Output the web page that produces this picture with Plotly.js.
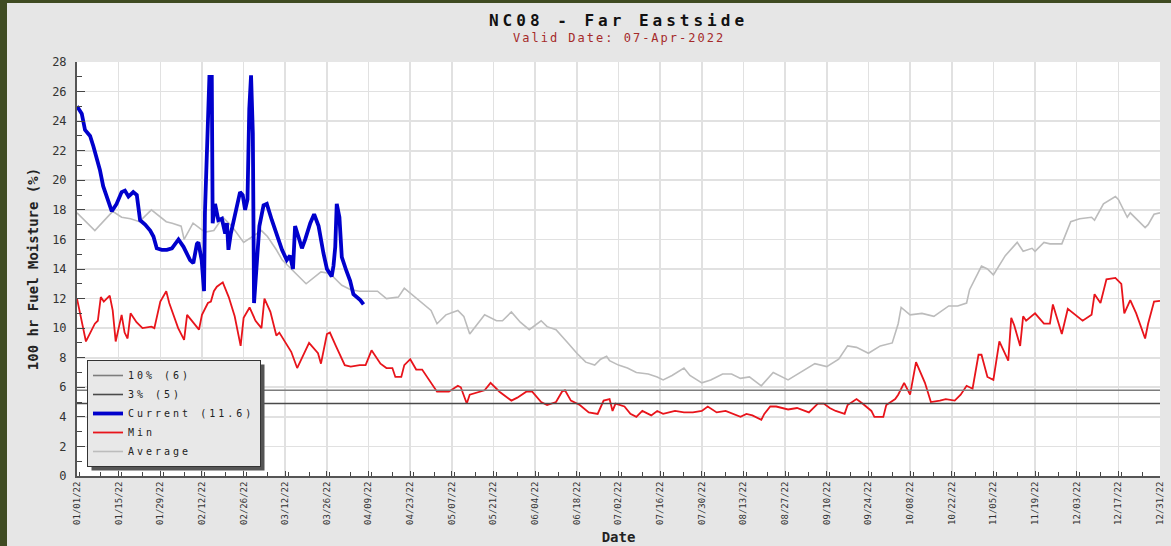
<!DOCTYPE html>
<html><head><meta charset="utf-8">
<script src="https://cdn.plot.ly/plotly-3.0.1.min.js"></script>
<style>
html,body{margin:0;padding:0;background:#3f4b22;width:1171px;height:546px;overflow:hidden}
#chart{position:absolute;left:7px;top:3px;width:1164px;height:543px}
.gtitle{letter-spacing:4px}
.annotation-text{letter-spacing:2px}
.legendtext{letter-spacing:3px}
</style></head><body><div id="chart"></div>
<script>
// Day-of-year offsets (0 = 01/01/22) and values
const avgDoy = [0,6,12,15,18,21,25,30,32,35,36,39,43,46,49,52,56,59,62,64,67,69,73,77,82,85,89,92,95,99,101,104,108,110,115,119,121,124,128,130,132,137,141,143,146,149,152,156,158,161,165,168,171,174,176,178,179,182,185,188,192,195,197,200,204,206,210,213,217,220,223,226,230,234,239,243,248,252,256,259,262,266,270,274,276,277,280,284,288,293,296,299,300,304,306,308,312,316,318,321,322,325,327,331,334,337,341,342,344,345,349,350,353,354,359,360,362,364];
const avgVal = [17.8,16.6,17.9,17.5,17.4,17.2,18.0,17.2,17.1,16.9,16.0,17.1,16.5,16.6,17.5,16.9,15.8,16.2,16.6,16.2,15.3,14.6,13.8,13.0,13.8,13.7,12.9,12.6,12.5,12.5,12.5,12.0,12.1,12.7,11.9,11.2,10.3,10.9,11.2,10.8,9.6,10.9,10.5,10.5,11.1,10.4,9.9,10.5,10.1,9.9,9.0,8.3,7.7,7.5,7.9,8.1,7.8,7.5,7.3,7.0,6.9,6.7,6.5,6.8,7.3,6.8,6.3,6.5,6.9,6.9,6.6,6.7,6.1,7.0,6.5,7.0,7.6,7.4,7.9,8.8,8.7,8.3,8.8,9.0,10.3,11.4,10.9,11.0,10.8,11.5,11.5,11.7,12.6,14.2,14.0,13.6,14.9,15.8,15.2,15.4,15.2,15.8,15.7,15.7,17.2,17.4,17.5,17.3,18.0,18.4,18.9,18.7,17.5,17.8,16.8,17.0,17.7,17.8];

const minDoy = [0,1,3,6,7,8,9,11,12,13,15,16,17,18,20,22,25,26,28,30,31,34,36,37,39,41,42,44,45,46,47,49,51,53,55,56,58,60,62,63,65,67,68,72,74,76,78,81,82,84,85,87,90,92,95,97,99,102,104,106,107,109,110,112,114,116,119,121,125,128,129,131,132,134,137,139,142,146,148,151,153,156,158,161,163,164,166,169,172,175,177,179,180,181,184,186,188,190,193,195,197,201,204,207,210,212,215,218,222,223,225,227,230,231,233,235,239,242,246,249,251,253,255,258,259,262,264,267,268,271,272,275,276,278,280,282,285,287,290,292,295,297,299,301,303,304,306,308,310,313,314,315,317,318,319,322,325,327,328,331,333,336,338,341,342,344,346,349,351,352,354,356,359,360,362,364];
const minVal = [12.0,11.0,9.1,10.3,10.5,12.1,11.8,12.2,11.2,9.1,10.9,9.7,9.3,11.0,10.4,10.0,10.1,10.0,11.8,12.5,11.7,10.0,9.2,10.9,10.4,9.9,10.9,11.7,11.8,12.5,12.8,13.1,12.1,10.8,8.8,10.7,11.4,10.5,10.0,12.0,11.1,9.5,9.7,8.4,7.3,8.1,9.0,8.3,7.6,9.6,9.7,8.8,7.5,7.4,7.5,7.5,8.5,7.6,7.3,7.3,6.7,6.7,7.5,7.9,7.2,7.2,6.3,5.7,5.7,6.1,6.0,4.9,5.5,5.6,5.8,6.3,5.7,5.1,5.3,5.7,5.7,5.0,4.8,5.0,5.7,5.8,5.1,4.8,4.3,4.2,5.1,5.2,4.4,4.9,4.7,4.2,4.0,4.4,4.1,4.4,4.2,4.4,4.3,4.3,4.4,4.7,4.3,4.4,4.1,4.0,4.2,4.1,3.8,4.2,4.7,4.7,4.5,4.6,4.3,4.9,4.9,4.6,4.4,4.2,4.8,5.2,4.9,4.4,4.0,4.0,4.8,5.2,5.5,6.3,5.5,7.7,6.3,5.0,5.1,5.2,5.1,5.5,6.1,5.9,8.2,8.2,6.7,6.5,9.1,7.8,10.7,10.2,8.8,10.8,10.5,11.0,10.3,10.3,11.6,9.6,11.3,10.8,10.5,10.9,12.3,11.7,13.3,13.4,13.0,11.0,11.9,11.0,9.3,10.3,11.8,11.85];

const curDoy = [0,1.6,2.7,4.4,5.5,6.6,7.7,8.8,10.5,11.7,13.3,15,16.1,17.3,18.9,20.1,21.2,22.9,24.6,25.7,26.8,28.5,30.2,31.9,34.1,35.8,38,39.1,40.3,40.8,41.9,42.7,43,43.6,44.5,45.3,45.6,46.4,47.5,48.7,49.8,50.4,50.9,51.7,52.6,53.7,54.8,55.7,56.5,57.3,57.9,58.5,59.1,59.5,60.4,61.3,62.7,63.8,65.5,67.7,68.9,70.5,71.6,72.6,73.3,74.4,75.6,76.7,78.4,79.7,81.2,82.8,84,85.6,86.2,86.8,87.3,88.2,89,90.5,91.8,92.9,94.1,95.2,96.3];
const curVal = [25.0,24.5,23.4,23.0,22.3,21.6,20.7,19.6,18.7,17.9,18.4,19.2,19.3,18.9,19.2,19.0,17.3,17.0,16.6,16.2,15.4,15.3,15.3,15.4,16.0,15.5,14.6,14.4,15.7,15.8,14.6,12.5,17.8,21.6,27.0,27.0,17.1,18.4,17.3,17.4,16.4,17.1,15.3,16.4,17.3,18.4,19.2,19.0,18.0,18.7,24.8,27.1,23.2,11.7,14.2,16.9,18.3,18.4,17.3,16.0,15.3,14.6,14.9,14.0,16.9,16.2,15.4,16.0,17.1,17.7,16.9,15.1,14.0,13.5,14.2,15.5,18.4,17.5,14.8,13.9,13.2,12.3,12.1,11.9,11.6];

const tenPct = 5.8;
const threePct = 4.9;
const legendNames = ['10% (6)', '3% (5)', 'Current (11.6)', 'Min', 'Average'];
const titleText = 'NC08 - Far Eastside';
const subtitleText = 'Valid Date: 07-Apr-2022';

function toDate(d){
  return new Date(Date.UTC(2022,0,1) + d*864e5).toISOString().slice(0,19).replace('T',' ');
}
const yearStart = toDate(0), yearEnd = toDate(364);
const MONO = 'DejaVu Sans Mono';

const traces = [
  {x: avgDoy.map(toDate), y: avgVal, name: legendNames[4], legendrank: 5, mode:'lines',
   line:{color:'#bcbcbc', width:1.6}},
  {x: minDoy.map(toDate), y: minVal, name: legendNames[3], legendrank: 4, mode:'lines',
   line:{color:'#e8141b', width:1.8}},
  {x: [yearStart, yearEnd], y: [tenPct, tenPct], name: legendNames[0], legendrank: 1, mode:'lines',
   line:{color:'#7d7d7d', width:1.6}},
  {x: [yearStart, yearEnd], y: [threePct, threePct], name: legendNames[1], legendrank: 2, mode:'lines',
   line:{color:'#4a4a4a', width:1.6}},
  {x: curDoy.map(toDate), y: curVal, name: legendNames[2], legendrank: 3, mode:'lines',
   line:{color:'#0000cc', width:3.8}}
];

const layout = {
  width: 1164, height: 543,
  margin: {l:70, r:11, t:59, b:70},
  paper_bgcolor:'#e6e6e6', plot_bgcolor:'#ffffff',
  showlegend: true,
  hovermode: false,
  title: {text: titleText, font:{family:MONO, size:16, color:'#111', weight:'bold'},
          xref:'paper', x:0.5, xanchor:'center', yref:'container', y:1-17/543, yanchor:'middle'},
  annotations: [{text: subtitleText, xref:'paper', yref:'paper', x:0.5, y:1+(59-35)/414,
                 xanchor:'center', yanchor:'middle', showarrow:false,
                 font:{family:MONO, size:12, color:'#a52a2a'}}],
  xaxis: {
    type:'date', range:[yearStart, yearEnd], tick0: yearStart, dtick: 14*864e5,
    tickformat:'%m/%d/%y', tickangle:-90, ticks:'inside', ticklen:5, tickcolor:'#444', tickwidth:1,
    tickfont:{family:MONO, size:9, color:'#333'},
    minor:{dtick:7*864e5, ticks:'inside', ticklen:4, tickcolor:'#444', showgrid:false},
    showline:true, linecolor:'#555', linewidth:2, mirror:false,
    showgrid:true, gridcolor:'#e1e1e1', gridwidth:1.6, zeroline:false,
    title:{text:'Date', font:{family:MONO, size:14, color:'#222', weight:'bold'}, standoff:8}
  },
  yaxis: {
    range:[0,28], dtick:2, tick0:0, ticks:'inside', ticklen:8, tickcolor:'#444', tickwidth:1,
    tickfont:{family:MONO, size:12, color:'#333'}, ticklabelstandoff:6,
    minor:{dtick:1, ticks:'inside', ticklen:5, tickcolor:'#444', showgrid:false},
    showline:true, linecolor:'#555', linewidth:2,
    showgrid:true, gridcolor:'#e1e1e1', gridwidth:1.6, zeroline:false,
    title:{text:'100 hr Fuel Moisture (%)', font:{family:MONO, size:14, color:'#222', weight:'bold'}, standoff:10}
  },
  legend: {x:(87-77)/1083, y:(476-360)/414, xanchor:'left', yanchor:'top',
           bgcolor:'#e8e8e8', bordercolor:'#333', borderwidth:1, traceorder:'normal',
           font:{family:MONO, size:10, color:'#222'}, itemwidth:30, tracegroupgap:0}
};

Plotly.newPlot('chart', traces, layout, {staticPlot:true, displayModeBar:false}).then(function(gd){
  // drop shadow behind the legend box
  const bg = gd.querySelector('.legend .bg');
  if(!bg) return;
  const r = bg.getBoundingClientRect();
  const c = gd.getBoundingClientRect();
  const s = gd._fullLayout._size;
  const px2x = p => (p - c.left - s.l)/s.w;
  const px2y = p => 1 - (p - c.top - s.t)/s.h;
  Plotly.relayout(gd, {shapes:[{type:'rect', xref:'paper', yref:'paper', layer:'above',
    x0:px2x(r.left+4), x1:px2x(r.right+4), y0:px2y(r.bottom+4), y1:px2y(r.top+4),
    fillcolor:'#555', line:{width:0}}]});
});
</script></body></html>
